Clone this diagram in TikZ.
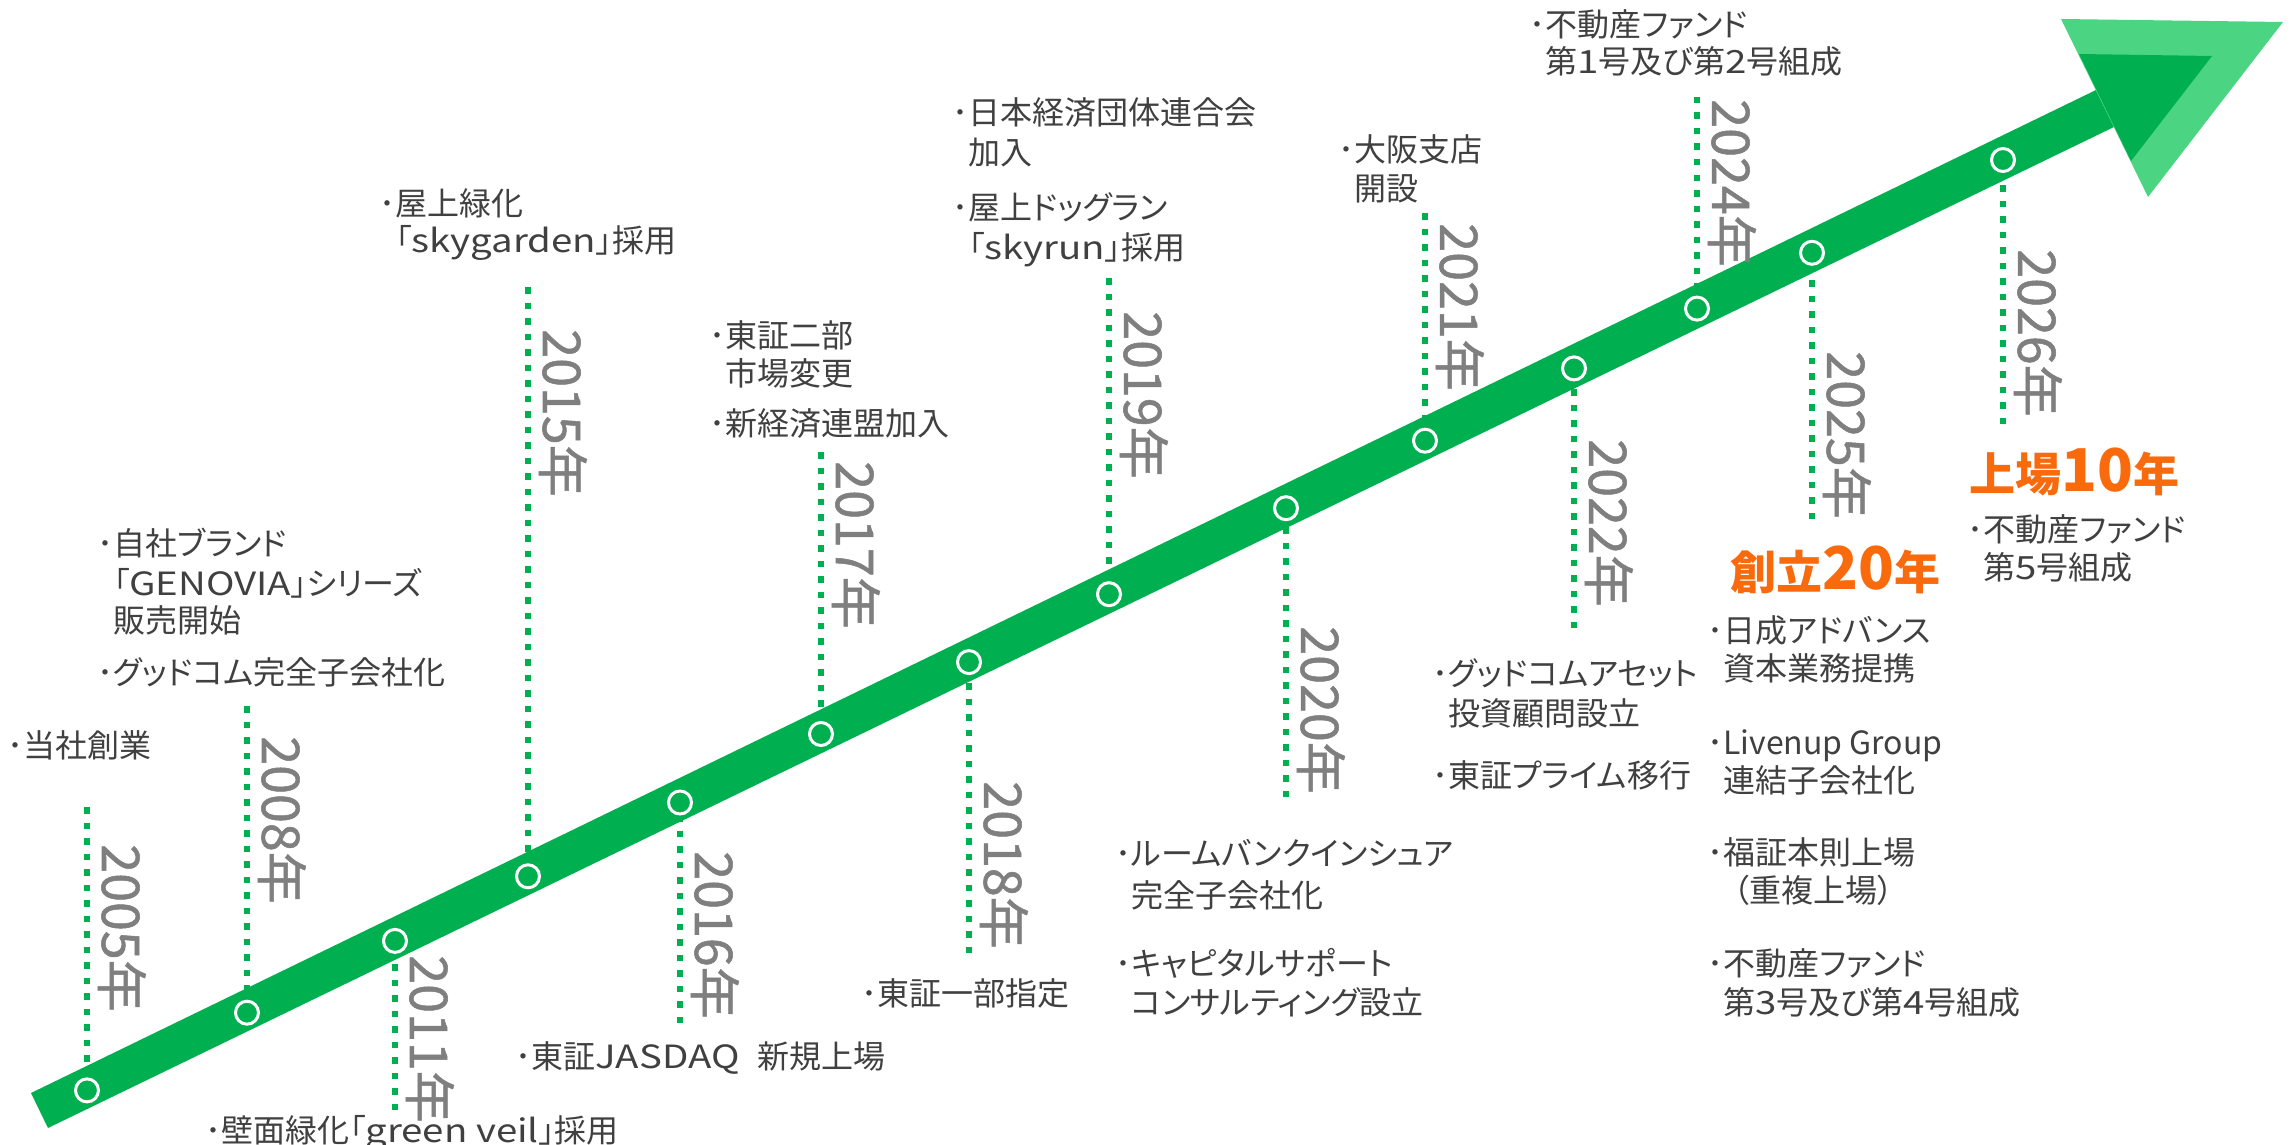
\documentclass[tikz,border=0pt]{standalone}
\usepackage{fontspec}
\setmainfont{Noto Sans CJK JP}[RawFeature=+palt]
\newcommand{\lat}[1]{{\addfontfeatures{FakeStretch=1.2}#1}}
\definecolor{bandgreen}{HTML}{00B050}
\definecolor{lightgreen}{HTML}{4BD583}
\definecolor{evgray}{HTML}{404040}
\definecolor{yrgray}{HTML}{7F7F7F}
\definecolor{orng}{HTML}{F96A0C}
\begin{document}
\begin{tikzpicture}[x=0.5pt,y=-0.5pt,
  ev/.style={anchor=base west, inner sep=0pt, text=evgray, font=\fontsize{16pt}{19pt}\selectfont},
  yr/.style={anchor=base, inner sep=0pt, rotate=-90, text=yrgray, font=\fontsize{26pt}{30pt}\selectfont\addfontfeatures{FakeBold=1}},
  bigtxt/.style={anchor=base west, inner sep=0pt, text=orng, font=\bfseries\fontsize{23pt}{28pt}\selectfont},
  dotline/.style={draw=bandgreen, line width=3.25pt, dash pattern=on 3.25pt off 4.5pt},
  yearring/.style={circle, draw=white, line width=1.5pt, minimum size=11.5pt, inner sep=0pt}
]
\useasboundingbox (0,0) rectangle (2292,1145);
\fill[white] (0,0) rectangle (2292,1145);

% circles (positions)
\path (87,1090.4)   node[yearring] (c2005) {}
      (247,1012.7)  node[yearring] (c2008) {}
      (395,940.9)   node[yearring] (c2011) {}
      (528,876.3)   node[yearring] (c2015) {}
      (680,802.5)   node[yearring] (c2016) {}
      (821,734.0)   node[yearring] (c2017) {}
      (969,662.1)   node[yearring] (c2018) {}
      (1109,594.2)  node[yearring] (c2019) {}
      (1286,508.2)  node[yearring] (c2020) {}
      (1425,440.7)  node[yearring] (c2021) {}
      (1574,368.4)  node[yearring] (c2022) {}
      (1697,308.6)  node[yearring] (c2024) {}
      (1812,252.8)  node[yearring] (c2025) {}
      (2003,160.0)  node[yearring] (c2026) {};

% far ends of dotted lines
\coordinate (t2005) at (87,807);
\coordinate (t2008) at (247,706);
\coordinate (t2011) at (395,1110);
\coordinate (t2015) at (528,287);
\coordinate (t2016) at (680,1023);
\coordinate (t2017) at (821,452);
\coordinate (t2018) at (969,953);
\coordinate (t2019) at (1109,278);
\coordinate (t2020) at (1286,797);
\coordinate (t2021) at (1425,213);
\coordinate (t2022) at (1574,628);
\coordinate (t2024) at (1697,97);
\coordinate (t2025) at (1812,519);
\coordinate (t2026) at (2003,424);

\foreach \y in {2005,2008,2011,2015,2016,2017,2018,2019,2020,2021,2022,2024,2025,2026}
  \draw[dotline] (t\y) -- (c\y.center);

% band and arrow heads
\fill[bandgreen] (31,1093) -- (2096,90) -- (2114,127) -- (48,1128) -- cycle;
\fill[lightgreen] (2061,19) -- (2283,22) -- (2148,197) -- cycle;
\fill[bandgreen] (2079,54) -- (2212,56) -- (2131,161) -- cycle;

% redraw rings on top
\foreach \y in {2005,2008,2011,2015,2016,2017,2018,2019,2020,2021,2022,2024,2025,2026}
  \draw[white, line width=1.5pt] (c\y.center) circle[radius=5.75pt];

% year labels
\node[yr] (y2005) at (102,928)  {2005年};
\node[yr] (y2008) at (262,820)  {2008年};
\node[yr] (y2011) at (410,1039) {2011年};
\node[yr] (y2015) at (543,413)  {2015年};
\node[yr] (y2016) at (695,935)  {2016年};
\node[yr] (y2017) at (836,545)  {2017年};
\node[yr] (y2018) at (984,865)  {2018年};
\node[yr] (y2019) at (1124,395) {2019年};
\node[yr] (y2020) at (1301,710) {2020年};
\node[yr] (y2021) at (1440,307) {2021年};
\node[yr] (y2022) at (1589,523) {2022年};
\node[yr] (y2024) at (1712,183) {2024年};
\node[yr] (y2025) at (1827,435) {2025年};
\node[yr] (y2026) at (2018,333) {2026年};

% anniversaries
\node[bigtxt] (a20) at (1730,589) {創立{\fontsize{29.5pt}{30pt}\selectfont 20}年};
\node[bigtxt] (a10) at (1969,491) {上場{\fontsize{29.5pt}{30pt}\selectfont 10}年};

% events
\node[ev] (e2005) at (7,757) {･当社創業};
\node[ev] (e2008a) at (97,555) {･自社ブランド};
\node[ev] (e2008b) at (113,595) {「\lat{GENOVIA}」シリーズ};
\node[ev] (e2008c) at (113,632) {販売開始};
\node[ev] (e2008d) at (97,684) {･グッドコム完全子会社化};
\node[ev] (e2011) at (205,1142) {･壁面緑化「\lat{green veil}」採用};
\node[ev] (e2015a) at (379,215) {･屋上緑化};
\node[ev] (e2015b) at (395,252) {「\lat{skygarden}」採用};
\node[ev] (e2016) at (515,1068) {･東証\lat{JASDAQ}\hspace{9pt}新規上場};
\node[ev] (e2017a) at (709,347) {･東証二部};
\node[ev] (e2017b) at (725,385) {市場変更};
\node[ev] (e2017c) at (709,435) {･新経済連盟加入};
\node[ev] (e2018) at (861,1005) {･東証一部指定};
\node[ev] (e2019a) at (952,125) {･日本経済団体連合会};
\node[ev] (e2019b) at (968,164) {加入};
\node[ev] (e2019c) at (952,220) {･屋上ドッグラン};
\node[ev] (e2019d) at (968,259) {「\lat{skyrun}」採用};
\node[ev] (e2020a) at (1115,865) {･ルームバンクインシュア};
\node[ev] (e2020b) at (1131,907) {完全子会社化};
\node[ev] (e2020c) at (1115,975) {･キャピタルサポート};
\node[ev] (e2020d) at (1131,1014) {コンサルティング設立};
\node[ev] (e2021a) at (1338,162) {･大阪支店};
\node[ev] (e2021b) at (1354,200) {開設};
\node[ev] (e2022a) at (1432,685) {･グッドコムアセット};
\node[ev] (e2022b) at (1448,725) {投資顧問設立};
\node[ev] (e2022c) at (1432,787) {･東証プライム移行};
\node[ev] (e2024a) at (1529,37) {･不動産ファンド};
\node[ev] (e2024b) at (1545,74) {第\lat{1}号及び第\lat{2}号組成};
\node[ev] (e2025a) at (1707,642) {･日成アドバンス};
\node[ev] (e2025b) at (1723,680) {資本業務提携};
\node[ev] (e2025c) at (1707,754) {･Livenup Group};
\node[ev] (e2025d) at (1723,792) {連結子会社化};
\node[ev] (e2025e) at (1707,864) {･福証本則上場};
\node[ev] (e2025f) at (1733,902) {（重複上場）};
\node[ev] (e2025g) at (1707,975) {･不動産ファンド};
\node[ev] (e2025h) at (1723,1014) {第\lat{3}号及び第\lat{4}号組成};
\node[ev] (e2026a) at (1967,541) {･不動産ファンド};
\node[ev] (e2026b) at (1983,579) {第\lat{5}号組成};
\end{tikzpicture}
\end{document}
